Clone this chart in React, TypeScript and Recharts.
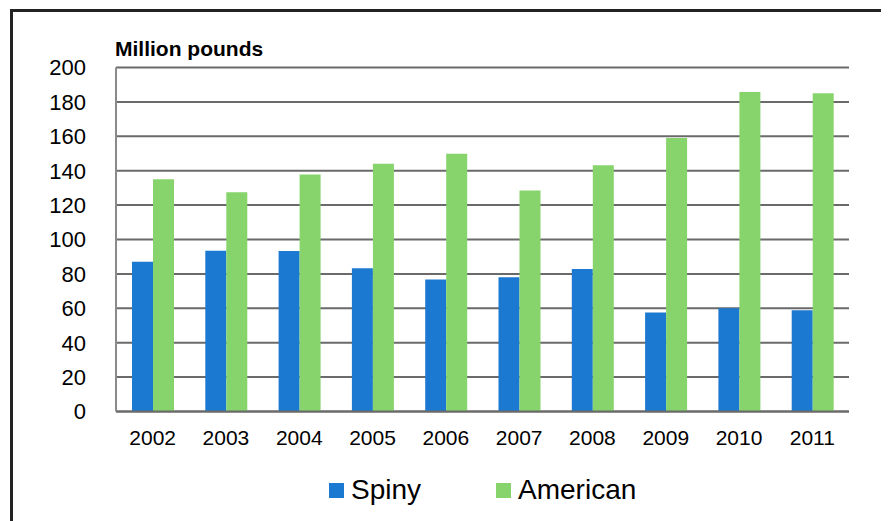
import React from 'react';
import { BarChart, Bar, XAxis, YAxis, CartesianGrid, Legend } from 'recharts';

const years = ['2002', '2003', '2004', '2005', '2006', '2007', '2008', '2009', '2010', '2011'];
const spiny = [87, 93.5, 93.3, 83.3, 76.7, 78, 82.8, 57.5, 60, 58.8];
const american = [135, 127.5, 137.8, 144, 149.8, 128.5, 143.2, 159, 185.7, 185];
const yTicks = [0, 20, 40, 60, 80, 100, 120, 140, 160, 180, 200];
const boundaryTicks = [0, 1, 2, 3, 4, 5, 6, 7, 8, 9, 10];

const data = years.map((year, i) => ({ year, Spiny: spiny[i], American: american[i] }));

const font = '"Liberation Sans", Arial, sans-serif';

const legendItems = [
  { name: 'Spiny', color: '#1b79d1' },
  { name: 'American', color: '#86d46b' },
];

const LegendContent = () => (
  <div style={{ display: 'flex', alignItems: 'center', marginLeft: 321, fontFamily: font, fontSize: 28, color: '#000' }}>
    {legendItems.map((item, i) => (
      <div key={item.name} style={{ display: 'flex', alignItems: 'center', marginLeft: i === 0 ? 0 : 75 }}>
        <span style={{ width: 15, height: 15, background: item.color, display: 'inline-block', marginRight: 7 }} />
        <span style={{ lineHeight: '32px' }}>{item.name}</span>
      </div>
    ))}
  </div>
);

export default function App() {
  return (
    <div style={{ position: 'relative', width: 881, height: 513, overflow: 'hidden', fontFamily: font }}>
      <div
        style={{
          position: 'absolute',
          top: 1,
          left: 2,
          right: -10,
          bottom: -10,
          borderTop: '3px solid #222',
          borderLeft: '3px solid #222',
        }}
      />
      <div
        style={{
          position: 'absolute',
          left: 107,
          top: 29,
          fontSize: 21,
          fontWeight: 'bold',
          color: '#000',
        }}
      >
        Million pounds
      </div>
      <BarChart
        width={881}
        height={513}
        data={data}
        margin={{ top: 59.5, right: 40, bottom: 68.5, left: 0 }}
        barGap={0}
        barSize={21}
        style={{ position: 'absolute', top: 0, left: 0 }}
      >
        <CartesianGrid vertical={false} xAxisId="b" stroke="#6a6a6a" strokeWidth={2} />
        <XAxis
          xAxisId="a"
          type="number"
          dataKey={() => 0}
          domain={[0, 10]}
          ticks={boundaryTicks}
          tick={false}
          tickSize={6}
          height={1}
          axisLine={{ stroke: '#6a6a6a', strokeWidth: 2 }}
          tickLine={{ stroke: '#6a6a6a', strokeWidth: 1.5 }}
          allowDataOverflow
        />
        <XAxis
          xAxisId="b"
          dataKey="year"
          axisLine={false}
          tickLine={false}
          height={40}
          tickMargin={12}
          tick={{ fill: '#000', fontSize: 21, fontFamily: font }}
        />
        <YAxis
          domain={[0, 200]}
          ticks={yTicks}
          width={108}
          tickLine={false}
          tickMargin={24}
          axisLine={{ stroke: '#8a8a8a', strokeWidth: 2 }}
          tick={{ fill: '#000', fontSize: 22, fontFamily: font }}
          interval={0}
        />
        <Legend
          verticalAlign="middle"
          content={<LegendContent />}
          wrapperStyle={{ top: 466, left: 0, width: 881 }}
        />
        <Bar dataKey="Spiny" xAxisId="b" fill="#1b79d1" isAnimationActive={false} />
        <Bar dataKey="American" xAxisId="b" fill="#86d46b" isAnimationActive={false} />
      </BarChart>
    </div>
  );
}
